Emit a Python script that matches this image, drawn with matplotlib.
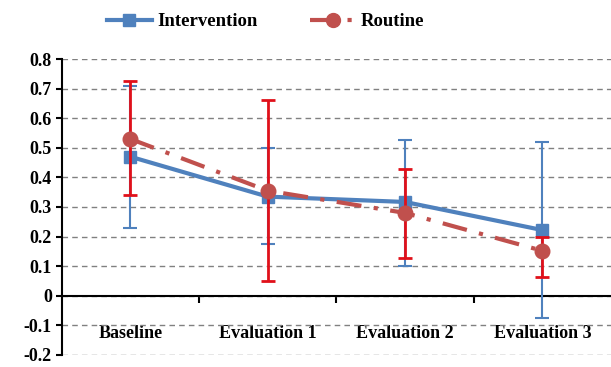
import matplotlib.pyplot as plt
from matplotlib.lines import Line2D

categories = ['Baseline', 'Evaluation 1', 'Evaluation 2', 'Evaluation 3']
intervention = [0.47, 0.335, 0.317, 0.222]
intervention_hi = [0.71, 0.50, 0.527, 0.52]
intervention_lo = [0.23, 0.175, 0.10, -0.074]
routine = [0.53, 0.355, 0.28, 0.152]
routine_hi = [0.726, 0.66, 0.43, 0.20]
routine_lo = [0.34, 0.05, 0.128, 0.064]
yticks = [-0.2, -0.1, 0, 0.1, 0.2, 0.3, 0.4, 0.5, 0.6, 0.7, 0.8]
ytick_labels = ['-0.2', '-0.1', '0', '0.1', '0.2', '0.3', '0.4', '0.5', '0.6', '0.7', '0.8']

plt.rcParams['font.family'] = ['Liberation Serif', 'DejaVu Serif']
plt.rcParams['font.weight'] = 'bold'
plt.rcParams['font.size'] = 13

blue = '#4F81BD'
red_line = '#C0504D'
red_err = '#E0101A'

fig = plt.figure(figsize=(6.11, 3.67), dpi=100)
ax = fig.add_axes([0.101, 0.033, 0.899, 0.806])

x = [i + 0.5 for i in range(len(categories))]

# error bars and lines
ax.errorbar(x, intervention,
            yerr=[[v - lo for v, lo in zip(intervention, intervention_lo)],
                  [hi - v for v, hi in zip(intervention, intervention_hi)]],
            fmt='none', ecolor=blue, elinewidth=1.5, capsize=5, capthick=1.5, zorder=3)
ax.plot(x, intervention, color=blue, lw=3, marker='s', markersize=9, zorder=4)
ax.errorbar(x, routine,
            yerr=[[v - lo for v, lo in zip(routine, routine_lo)],
                  [hi - v for v, hi in zip(routine, routine_hi)]],
            fmt='none', ecolor=red_err, elinewidth=2, capsize=5, capthick=2, zorder=5)
ax.plot(x, routine, color=red_line, lw=3, ls=(0, (6, 3, 1, 3)), marker='o',
        markersize=10.5, zorder=6)

ax.set_xlim(0, len(categories))
ax.set_ylim(-0.2, 0.8)
ax.set_yticks(yticks)
ax.set_yticklabels(ytick_labels)
ax.yaxis.grid(True, ls=(0, (4, 3)), color='#808080', lw=1)
ax.set_axisbelow(True)

ax.set_xticks(x)
ax.set_xticklabels(categories)
ax.tick_params(axis='x', which='major', length=0, pad=21)
ax.set_xticks([1, 2, 3], minor=True)
ax.tick_params(axis='x', which='minor', length=5, width=1.5, direction='out')
ax.tick_params(axis='y', length=4, width=1.5, direction='out', pad=3)

ax.spines['bottom'].set_position(('data', 0))
ax.spines['bottom'].set_linewidth(1.5)
ax.spines['left'].set_linewidth(1.5)
ax.spines['top'].set_visible(False)
ax.spines['right'].set_visible(False)

handles = [
    Line2D([], [], color=blue, lw=3, marker='s', markersize=9),
    Line2D([], [], color=red_line, lw=3, ls=(0, (6, 3, 1, 3)), marker='o', markersize=10),
]
fig.legend(handles, ['Intervention', 'Routine'], loc='upper center',
           bbox_to_anchor=(0.435, 1.01), ncol=2, frameon=False, fontsize=13.5,
           handlelength=2.4, columnspacing=2.8, handletextpad=0.3)

fig.savefig('out.png', dpi=100)
